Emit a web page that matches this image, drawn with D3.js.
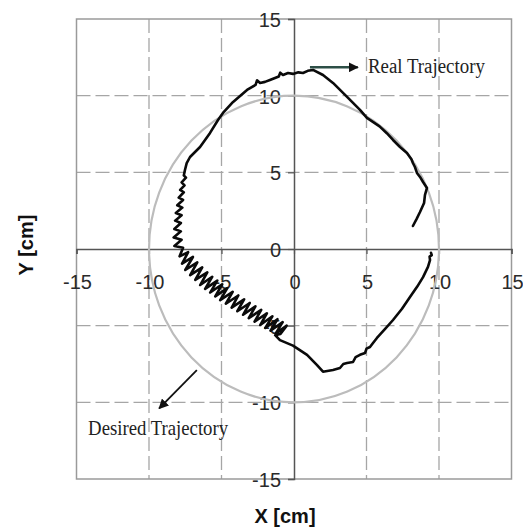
<!DOCTYPE html>
<html>
<head>
<meta charset="utf-8">
<script src="https://cdn.jsdelivr.net/npm/d3@7"></script>
<style>
  html, body { margin: 0; padding: 0; background: #fff; }
  svg { display: block; }
</style>
</head>
<body>
<svg id="chart" width="523" height="529"></svg>
<script>
// Axis ticks (cm)
const xTicks = [-15, -10, -5, 0, 5, 10, 15];
const yTicks = [-15, -10, -5, 0, 5, 10, 15];

// Desired trajectory: circle of radius 10 cm centred at the origin
const desiredCenter = [0, 0];
const desiredRadius = 10;

// Measured (real) trajectory, [x, y] in cm
const realX = [
  8.20, 8.45, 8.69, 8.97, 9.03, 9.17, 8.90, 8.69, 8.48, 8.34, 8.20, 8.10, 7.79, 7.31, 6.83, 6.40, 5.90, 5.03, 4.55, 3.66,
  2.69, 2.00, 1.31, 0.95, 0.62, 0.30, -0.07, -0.41, -0.76, -0.95, -1.05, -1.31, -1.66, -2.00, -2.34, -2.55, -2.65, -3.24, -4.20, -4.90,
  -5.24, -5.79, -6.48, -7.17, -7.40, -7.52,
  -7.60, -7.45, -7.75, -7.55, -7.85, -7.60, -7.95, -7.65, -8.05, -7.70, -8.15, -7.75, -8.20, -7.80, -8.25, -7.80, -8.30, -7.75, -8.25,
  -7.65, -7.89, -7.30, -7.72, -6.97, -7.50, -6.67, -7.16, -6.33, -6.81, -5.98, -6.47, -5.64, -6.13, -5.29, -5.78, -4.95, -5.43, -4.60, -5.09,
  -4.23, -4.70, -3.84, -4.30, -3.44, -3.91, -3.05, -3.51, -2.66, -3.12, -2.26, -2.72, -1.87, -2.33, -1.49, -1.98, -1.14, -1.62, -0.78, -1.27,
  -0.50, -0.95,
  -1.30, -0.97, -0.07, 0.90, 1.59, 2.00, 2.69, 3.17, 3.40, 3.66, 4.07, 4.25, 4.55, 4.90, 5.00, 5.24, 5.45, 5.72, 6.30, 6.83,
  7.45, 8.00, 8.50, 8.90, 9.24, 9.38, 9.35, 9.50, 9.45
];
const realY = [
  1.50, 1.95, 2.41, 3.00, 3.52, 3.98, 4.37, 4.70, 4.96, 5.35, 5.61, 5.85, 6.26, 6.65, 7.11, 7.55, 8.00, 8.55, 9.07, 9.92,
  10.83, 11.35, 11.68, 11.62, 11.48, 11.52, 11.42, 11.48, 11.35, 11.50, 11.25, 11.15, 11.02, 10.90, 10.83, 11.00, 10.70, 10.37, 9.59, 8.87,
  8.41, 7.57, 6.65, 6.00, 5.60, 5.15,
  4.80, 4.65, 4.35, 4.15, 3.85, 3.70, 3.35, 3.20, 2.85, 2.70, 2.35, 2.20, 1.85, 1.70, 1.30, 1.15, 0.75, 0.60, 0.20,
  0.08, -0.48, -0.21, -0.95, -0.52, -1.37, -0.87, -1.70, -1.20, -2.02, -1.53, -2.35, -1.81, -2.60, -2.06, -2.84, -2.30, -3.09, -2.55, -3.33,
  -2.79, -3.57, -3.03, -3.82, -3.28, -4.06, -3.52, -4.29, -3.74, -4.51, -3.97, -4.74, -4.19, -4.96, -4.39, -5.15, -4.58, -5.33, -4.77, -5.52,
  -5.00, -5.55,
  -5.62, -5.94, -6.30, -6.90, -7.57, -8.00, -7.89, -7.76, -7.50, -7.44, -7.37, -7.05, -6.90, -6.78, -6.50, -6.39, -6.13, -5.80, -5.20, -4.63,
  -3.90, -3.13, -2.45, -1.83, -1.17, -0.72, -0.50, -0.40, -0.25
];
const realPoints = realX.map((x, i) => [x, realY[i]]);

const svg = d3.select("#chart");
const plotLeft = 76.5, plotRight = 511.5, plotTop = 19, plotBottom = 479;

const x = d3.scaleLinear().domain([-15, 15]).range([plotLeft, plotRight]);
const y = d3.scaleLinear().domain([-15, 15]).range([plotBottom, plotTop]);

// Dashed grid
const grid = svg.append("g").attr("stroke", "#a6a6a6").attr("stroke-width", 1.3)
  .attr("stroke-dasharray", "14,5").attr("fill", "none");
grid.selectAll("line.v").data(xTicks.filter(d => d !== 0 && Math.abs(d) !== 15)).join("line")
  .attr("class", "v").attr("x1", d => x(d)).attr("x2", d => x(d)).attr("y1", plotTop).attr("y2", plotBottom);
grid.selectAll("line.h").data(yTicks.filter(d => d !== 0 && Math.abs(d) !== 15)).join("line")
  .attr("class", "h").attr("y1", d => y(d)).attr("y2", d => y(d)).attr("x1", plotLeft).attr("x2", plotRight);

// Plot frame
svg.append("rect").attr("x", plotLeft).attr("y", plotTop)
  .attr("width", plotRight - plotLeft).attr("height", plotBottom - plotTop)
  .attr("fill", "none").attr("stroke", "#9a9a9a").attr("stroke-width", 1.5);

// Axes crossing at the origin
const xAxis = d3.axisBottom(x).tickValues(xTicks).tickSize(5).tickFormat("");
const yAxis = d3.axisLeft(y).tickValues(yTicks).tickSize(6).tickFormat("");
const gx = svg.append("g").attr("transform", `translate(0,${y(0)})`).call(xAxis);
const gy = svg.append("g").attr("transform", `translate(${x(0)},0)`).call(yAxis);
[gx, gy].forEach(g => {
  g.select(".domain").attr("stroke", "#555").attr("stroke-width", 1.5);
  g.selectAll(".tick line").attr("stroke", "#555").attr("stroke-width", 1.2);
});

// Tick labels
const tickFont = "'Liberation Sans', Arial, sans-serif";
svg.append("g").selectAll("text").data(xTicks).join("text")
  .attr("x", d => x(d) + 1).attr("y", y(0) + 40)
  .attr("text-anchor", "middle").attr("font-family", tickFont).attr("font-size", 20)
  .attr("fill", "#2a2a2a").text(d => d);
svg.append("g").selectAll("text").data(yTicks).join("text")
  .attr("x", x(0) - 13).attr("y", d => y(d) + 8)
  .attr("text-anchor", "end").attr("font-family", tickFont).attr("font-size", 20)
  .attr("fill", "#2a2a2a").text(d => d);

// Desired trajectory circle
svg.append("ellipse")
  .attr("cx", x(desiredCenter[0])).attr("cy", y(desiredCenter[1]))
  .attr("rx", x(desiredRadius) - x(0)).attr("ry", y(0) - y(desiredRadius))
  .attr("fill", "none").attr("stroke", "#bcbcbc").attr("stroke-width", 2.2);

// Real trajectory
const line = d3.line().x(d => x(d[0])).y(d => y(d[1]));
svg.append("path").datum(realPoints).attr("d", line)
  .attr("fill", "none").attr("stroke", "#0a0a0a").attr("stroke-width", 2.6)
  .attr("stroke-linejoin", "round").attr("stroke-linecap", "round");

// Annotations
const defs = svg.append("defs");
defs.append("marker").attr("id", "headDark").attr("viewBox", "0 0 10 10")
  .attr("refX", 9).attr("refY", 5).attr("markerWidth", 10).attr("markerHeight", 10)
  .attr("markerUnits", "userSpaceOnUse").attr("orient", "auto")
  .append("path").attr("d", "M0,0L10,5L0,10Z").attr("fill", "#111");

svg.append("line")
  .attr("x1", x(1.1)).attr("y1", y(11.85)).attr("x2", x(4.4)).attr("y2", y(11.85))
  .attr("stroke", "#2d4f47").attr("stroke-width", 2.5).attr("marker-end", "url(#headDark)");
svg.append("text").attr("x", x(5.1)).attr("y", y(11.5))
  .attr("font-family", "'Liberation Serif', 'Times New Roman', serif").attr("font-size", 20)
  .attr("textLength", 117).attr("lengthAdjust", "spacingAndGlyphs")
  .attr("fill", "#222").text("Real Trajectory");

svg.append("line")
  .attr("x1", x(-6.7)).attr("y1", y(-7.9)).attr("x2", x(-9.3)).attr("y2", y(-10.4))
  .attr("stroke", "#111").attr("stroke-width", 1.8).attr("marker-end", "url(#headDark)");
svg.append("text").attr("x", x(-14.2)).attr("y", y(-12.1))
  .attr("font-family", "'Liberation Serif', 'Times New Roman', serif").attr("font-size", 21)
  .attr("textLength", 140).attr("lengthAdjust", "spacingAndGlyphs")
  .attr("fill", "#222").text("Desired Trajectory");

// Axis titles
svg.append("text").attr("x", 285).attr("y", 523).attr("text-anchor", "middle")
  .attr("font-family", tickFont).attr("font-size", 20).attr("font-weight", "bold")
  .attr("fill", "#111").text("X [cm]");
svg.append("text").attr("transform", "translate(33,245) rotate(-90)").attr("text-anchor", "middle")
  .attr("font-family", tickFont).attr("font-size", 20).attr("font-weight", "bold")
  .attr("fill", "#111").text("Y [cm]");
</script>
</body>
</html>
